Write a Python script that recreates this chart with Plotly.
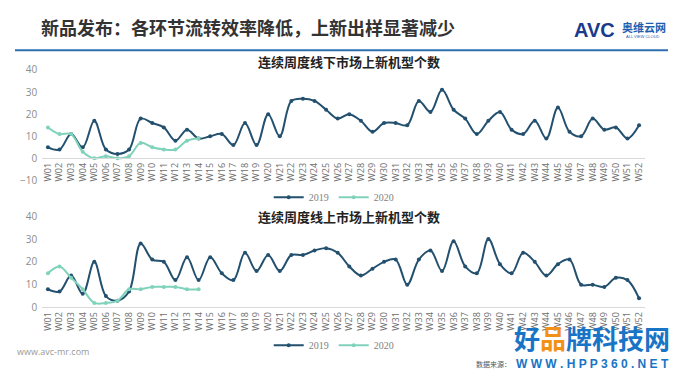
import plotly.graph_objects as go

weeks = ["W01","W02","W03","W04","W05","W06","W07","W08","W09","W10",
         "W11","W12","W13","W14","W15","W16","W17","W18","W19","W20",
         "W21","W22","W23","W24","W25","W26","W27","W28","W29","W30",
         "W31","W32","W33","W34","W35","W36","W37","W38","W39","W40",
         "W41","W42","W43","W44","W45","W46","W47","W48","W49","W50",
         "W51","W52"]
weeks_2020 = weeks[:14]

offline_2019 = [5, 4, 11, 5, 17, 4, 2, 4, 18, 16,
                14, 8, 13, 9, 10, 11, 6, 16, 6, 20,
                10, 26, 27, 26, 22, 18, 20, 17, 12, 16,
                16, 15, 26, 21, 31, 22, 18, 11, 17, 21,
                13, 11, 17, 9, 23, 12, 10, 18, 13, 14,
                9, 15]
offline_2020 = [14, 11, 11, 3, 0, 1, 0, 1, 7, 5, 4, 4, 8, 9]

online_2019 = [8, 7, 14, 6, 20, 5, 3, 7, 28, 21,
               20, 12, 22, 12, 22, 15, 12, 24, 16, 23,
               16, 23, 23, 25, 26, 24, 18, 14, 17, 20,
               21, 10, 21, 25, 16, 29, 18, 15, 30, 19,
               15, 24, 20, 14, 19, 21, 10, 10, 9, 13,
               12, 4]
online_2020 = [15, 18, 13, 8, 2, 2, 3, 8, 8, 9, 9, 9, 8, 8]

title_main = "新品发布：各环节流转效率降低，上新出样显著减少"
title_top = "连续周度线下市场上新机型个数"
title_bottom = "连续周度线上市场上新机型个数"

C19 = "#23506e"
C20 = "#80d2ba"
CJK = "Noto Sans CJK SC"
H = 383.0

def py(v):
    return 1 - v / H

fig = go.Figure()

def add_pair(x_ax, y_ax, v19, v20, leg):
    fig.add_trace(go.Scatter(x=weeks, y=v19, name="2019", mode="lines+markers",
                             line=dict(color=C19, width=2, shape="spline", smoothing=1.0),
                             marker=dict(size=4, color=C19),
                             xaxis=x_ax, yaxis=y_ax, legend=leg))
    fig.add_trace(go.Scatter(x=weeks_2020, y=v20, name="2020", mode="lines+markers",
                             line=dict(color=C20, width=2, shape="spline", smoothing=1.0),
                             marker=dict(size=4, color=C20),
                             xaxis=x_ax, yaxis=y_ax, legend=leg))

add_pair("x", "y", offline_2019, offline_2020, "legend")
add_pair("x2", "y2", online_2019, online_2020, "legend2")

xdom = [41.2 / 680, 644.8 / 680]
top_dom = [py(179.5), py(64.5)]
bot_dom = [py(311.7), py(216.7)]
zero_top = top_dom[0] + (10 / 50) * (top_dom[1] - top_dom[0])

xcommon = dict(type="category", categoryorder="array", categoryarray=weeks,
               range=[-0.5, 51.5], domain=xdom, tickangle=-90, showgrid=False,
               showline=True, linecolor="#d9d9d9", linewidth=1, ticks="",
               tickfont=dict(size=9, color="#6e6e6e", family="Open Sans"),
               zeroline=False)
ycommon = dict(showgrid=False, zeroline=False, showline=False, ticks="",
               ticklabelstandoff=4,
               tickfont=dict(size=10, color="#8c8c8c", family="Open Sans"))

legcommon = dict(orientation="h", x=0.49, xanchor="center", yanchor="middle",
                 font=dict(size=10, color="#7f7f7f", family="Liberation Serif"),
                 bgcolor="rgba(0,0,0,0)", itemwidth=30, tracegroupgap=0)

fig.update_layout(
    width=680, height=383,
    margin=dict(l=0, r=0, t=0, b=0),
    paper_bgcolor="white", plot_bgcolor="rgba(0,0,0,0)",
    xaxis=dict(**xcommon, anchor="free", position=zero_top),
    yaxis=dict(**ycommon, domain=top_dom, range=[-10, 40],
               tickvals=[-10, 0, 10, 20, 30, 40], anchor="x"),
    xaxis2=dict(**xcommon, anchor="y2"),
    yaxis2=dict(**ycommon, domain=bot_dom, range=[0, 40],
                tickvals=[0, 10, 20, 30, 40], anchor="x2"),
    legend=dict(**legcommon, y=py(197)),
    legend2=dict(**legcommon, y=py(351)),
    shapes=[dict(type="line", xref="paper", yref="paper", x0=14 / 680, x1=668 / 680,
                 y0=py(44), y1=py(44), line=dict(color="#2e6fb0", width=2))],
)

ann = [
    dict(text="<b>" + title_main + "</b>", x=38 / 680, y=py(20), xanchor="left", yanchor="middle",
         font=dict(size=18, color="#333333", family=CJK)),
    dict(text="<b>" + title_top + "</b>", x=349 / 680, y=py(56), xanchor="center", yanchor="middle",
         font=dict(size=13, color="#222222", family=CJK)),
    dict(text="<b>" + title_bottom + "</b>", x=349 / 680, y=py(217), xanchor="center", yanchor="middle",
         font=dict(size=13, color="#222222", family=CJK)),
    dict(text="<b>AVC</b>", x=572 / 680, y=py(23), xanchor="left", yanchor="middle",
         font=dict(size=20, color="#1b3a8c", family="Liberation Sans")),
    dict(text="<b>奥维云网</b>", x=668 / 680, y=py(20), xanchor="right", yanchor="middle",
         font=dict(size=11, color="#1f5fb0", family=CJK)),
    dict(text="ALL VIEW CLOUD", x=662 / 680, y=py(30), xanchor="right", yanchor="middle",
         font=dict(size=4, color="#1f5fb0", family="Liberation Sans")),
    dict(text="www.avc-mr.com", x=14 / 680, y=py(357), xanchor="left", yanchor="middle",
         font=dict(size=9, color="#9a9a9a", family="Open Sans")),
    dict(text="数据来源：", x=474 / 680, y=py(371), xanchor="left", yanchor="middle",
         font=dict(size=7, color="#555555", family=CJK)),
    dict(text="<b><span style='color:#1874c6'>好</span><span style='color:#f29118'>品</span>"
              "<span style='color:#1874c6'>牌科技网</span></b>",
         x=512 / 680, y=py(343), xanchor="left", yanchor="middle",
         font=dict(size=26, color="#1874c6", family=CJK)),
    dict(text="<b>W W W . H P P 3 6 0 . N E T</b>", x=514 / 680, y=py(371), xanchor="left",
         yanchor="middle", font=dict(size=12, color="#1874c6", family="Liberation Sans")),
]
for a in ann:
    a.update(xref="paper", yref="paper", showarrow=False)
fig.update_layout(annotations=ann)

fig.write_html("out.html", config={"displayModeBar": False},
               post_script="document.body.style.margin='0px';document.body.style.overflow='hidden';")
